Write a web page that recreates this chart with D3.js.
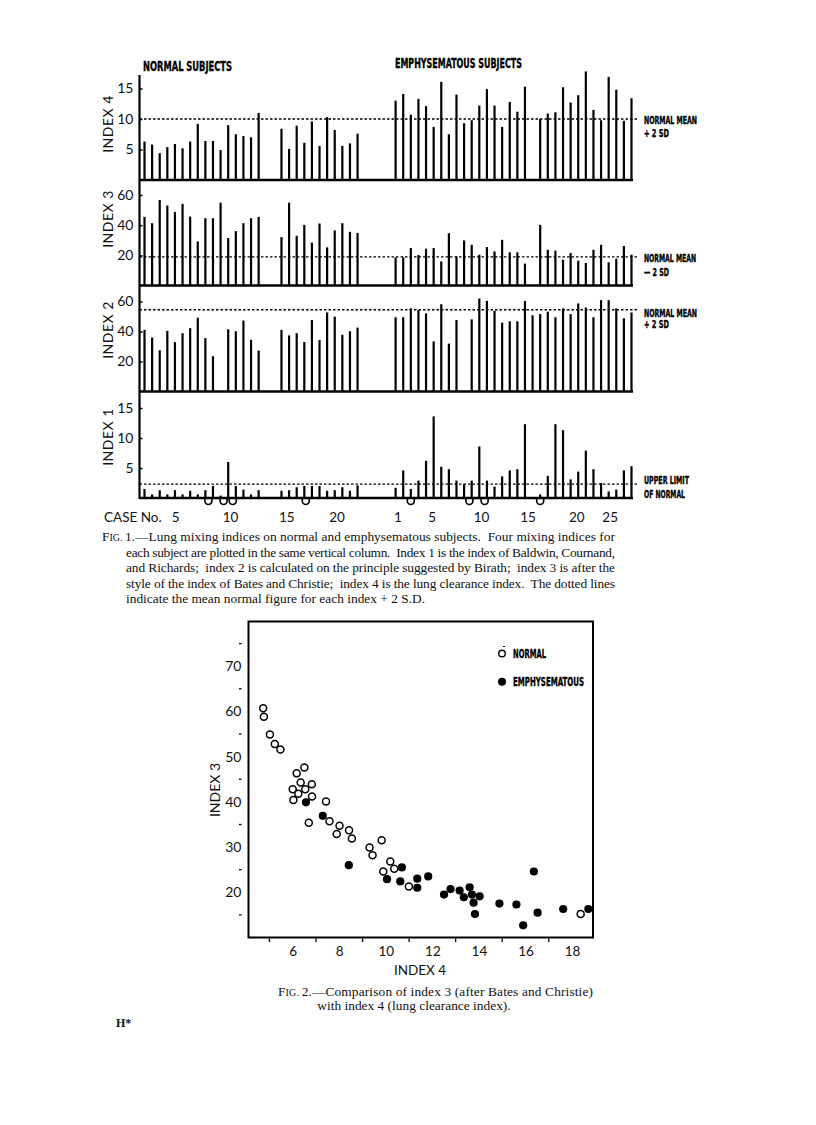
<!DOCTYPE html>
<html>
<head>
<meta charset="utf-8">
<script src="https://cdn.jsdelivr.net/npm/d3@7"></script>
<style>
  body { margin: 0; background: #fff; }
  svg { display: block; }
  .cond { font-family: "Liberation Sans Narrow", "DejaVu Sans Condensed", sans-serif; font-weight: bold; stroke: #000; stroke-width: 0.35; }
  .geo { font-family: Lato, "Open Sans", sans-serif; }
  .serif { font-family: "Liberation Serif", "DejaVu Serif", serif; }
</style>
</head>
<body>
<svg id="page" width="816" height="1125"></svg>
<script>
// ---------- Fig. 1 data ----------
// column slots of each bar (normal group, then emphysematous group)
const normalCols = [0, 1, 2, 3, 4, 5, 6, 7, 8, 9, 10, 11, 12, 13, 14, 15, 18, 19, 20, 21, 22, 23, 24, 25, 26, 27, 28];
const emphCols = [0, 1, 2, 3, 4, 5, 6, 7, 8, 9, 10, 11, 12, 13, 14, 15, 16, 17, 18, 19, 20, 21, 22, 23, 24, 25, 26, 27, 28, 29, 30, 31];
const emphOffset = 33;

const normalIndex4 = [6.3, 5.8, 4.4, 5.4, 5.9, 5.2, 6.3, 9.2, 6.4, 6.4, 4.9, 9.0, 7.5, 7.2, 7.0, 11.0, 8.4, 5.1, 8.9, 6.1, 9.6, 5.6, 10.3, 8.2, 5.6, 6.0, 7.6];
const emphIndex4 = [13.0, 14.1, 10.7, 13.3, 12.1, 8.7, 16.1, 7.5, 14.0, 9.3, 9.8, 12.2, 14.9, 12.2, 8.7, 12.8, 11.2, 15.3, null, 10.0, 10.9, 11.1, 15.2, 12.7, 13.9, 17.8, 11.5, 9.8, 16.9, 14.8, 9.7, 13.4];

const normalIndex3 = [45.5, 41.3, 56.7, 53.0, 48.8, 54.1, 45.7, 29.2, 44.6, 44.6, 54.9, 31.4, 36.0, 41.3, 44.6, 45.5, 32.1, 54.9, 33.0, 40.2, 28.4, 41.1, 25.3, 36.5, 41.3, 35.6, 34.9];
const emphIndex3 = [18.7, 18.7, 24.8, 20.2, 24.4, 24.8, 16.0, 34.7, 19.3, 29.9, 27.0, 20.4, 25.5, 22.6, 30.3, 22.0, 22.0, 14.5, null, 40.2, 23.7, 23.1, 17.1, 21.5, 16.5, 14.9, 23.7, 27.0, 15.4, 17.8, 26.2, 20.4];

const normalIndex2 = [41.1, 36.0, 27.5, 40.4, 32.9, 38.9, 42.2, 49.2, 35.6, 23.5, null, 41.5, 40.2, 47.3, 34.5, 27.3, 41.1, 37.4, 38.9, 33.0, 47.7, 34.3, 52.7, 49.9, 37.8, 40.2, 42.6];
const emphIndex2 = [49.5, 49.5, 55.4, 54.3, 52.1, 33.4, 58.2, 31.9, 47.7, null, 48.1, 62.0, 60.4, 53.8, 45.9, 46.8, 46.8, 60.4, 50.8, 51.6, 53.2, 49.5, 55.4, 51.6, 58.7, 56.0, 49.5, 60.9, 60.9, 55.4, 48.8, 52.7];

const normalIndex1 = [1.5, 0.6, 1.3, 0.6, 1.3, 0.6, 1.2, 0.6, 1.3, 2.0, 0.4, 6.0, 2.0, 1.4, 0.6, 1.3, 1.2, 1.3, 1.8, 2.0, 2.0, 2.0, 1.2, 1.3, 1.8, 1.2, 2.1];
const emphIndex1 = [1.7, 4.6, 1.5, 2.9, 6.2, 13.6, 5.2, 4.8, 2.9, 2.3, 2.9, 8.6, 2.9, 1.9, 3.6, 4.6, 4.8, 12.3, null, 0.6, 3.7, 12.3, 11.3, 3.1, 4.4, 7.9, 4.8, 2.5, 1.1, 1.4, 4.6, 5.3];

// little loops under the index 1 baseline (slot positions)
const normalLoops = [8.4, 10.4, 11.6, 21.2];
const emphLoops = [2, 9.7, 11.7, 19];

// dotted reference lines (normal mean +/- 2 SD, upper limit of normal)
const refIndex4 = 10, refIndex3 = 19, refIndex2 = 54.5, refIndex1 = 2.3;

// case number labels (value, slot position)
const caseLabels = ["5", "10", "15", "20", "1", "5", "10", "15", "20", "25"];
const caseSlots = [4.1, 11.3, 18.7, 25.3, 33.3, 37.8, 44.3, 50.4, 56.8, 61.2];

// ---------- Fig. 2 data ----------
const normalX4 = [4.73, 4.76, 5.02, 5.23, 5.47, 6.17, 6.50, 6.34, 6.00, 6.24, 6.54, 6.82, 6.03, 6.83, 7.43, 6.69, 7.58, 8.01, 7.89, 8.42, 8.54, 9.30, 9.43, 9.82, 10.19, 9.89, 10.36, 10.99, 18.37];
const normalY3 = [60.7, 58.8, 54.9, 52.8, 51.6, 46.3, 47.6, 44.3, 42.8, 41.8, 42.8, 43.9, 40.4, 41.2, 40.1, 35.4, 35.7, 34.7, 32.9, 33.7, 31.9, 29.9, 28.2, 31.5, 26.8, 24.6, 25.2, 21.3, 15.2];
const emphX4 = [6.57, 7.29, 8.41, 10.69, 10.05, 10.62, 11.35, 11.35, 11.82, 12.50, 12.78, 13.17, 13.35, 13.60, 13.70, 13.77, 13.83, 14.03, 14.88, 15.61, 15.90, 16.36, 16.52, 17.62, 18.70];
const emphY3 = [39.9, 36.9, 26.0, 25.5, 22.9, 22.4, 23.0, 21.0, 23.5, 19.5, 20.7, 20.4, 18.9, 21.1, 19.5, 17.7, 15.2, 19.1, 17.5, 17.3, 12.7, 24.6, 15.5, 16.3, 16.3];

const svg = d3.select("#page");

// ================= FIG. 1 =================
const x = d3.scaleLinear().domain([0, 64]).range([144.5, 631.5]);
const axisX = 139.5;
const lineEnd = 633;

const panels = [
  { title: "INDEX 4", normal: normalIndex4, emph: emphIndex4, ref: refIndex4, domain: [0, 15], range: [180, 88.5], ticks: [5, 10, 15],
    note: ["NORMAL MEAN", "+ 2 SD"], noteY: [124, 137], noteW: [53, 25], titleY: 124 },
  { title: "INDEX 3", normal: normalIndex3, emph: emphIndex3, ref: refIndex3, domain: [0, 60], range: [285.5, 195], ticks: [20, 40, 60],
    note: ["NORMAL MEAN", "\u2014 2 SD"], noteY: [262, 276], noteW: [52, 25], titleY: 219 },
  { title: "INDEX 2", normal: normalIndex2, emph: emphIndex2, ref: refIndex2, domain: [0, 60], range: [391.5, 301.5], ticks: [20, 40, 60],
    note: ["NORMAL MEAN", "+ 2 SD"], noteY: [317, 328], noteW: [53, 25], titleY: 330 },
  { title: "INDEX 1", normal: normalIndex1, emph: emphIndex1, ref: refIndex1, domain: [0, 15], range: [498, 408], ticks: [5, 10, 15],
    note: ["UPPER LIMIT", "OF NORMAL"], noteY: [484, 498], noteW: [45, 41], titleY: 437 }
];

// main vertical axis line
svg.append("line")
  .attr("x1", axisX).attr("x2", axisX)
  .attr("y1", 75).attr("y2", 499)
  .attr("stroke", "#000").attr("stroke-width", 2.2);

panels.forEach(function(p, pi) {
  const y = d3.scaleLinear().domain(p.domain).range(p.range);

  const bars = normalCols.map((c, i) => ({ slot: c, v: p.normal[i] }))
    .concat(emphCols.map((c, i) => ({ slot: emphOffset + c, v: p.emph[i] })))
    .filter(d => d.v != null);

  const g = svg.append("g");

  // bars
  g.selectAll("line.bar")
    .data(bars)
    .enter()
    .append("line")
    .attr("class", "bar")
    .attr("x1", d => x(d.slot)).attr("x2", d => x(d.slot))
    .attr("y1", y(0)).attr("y2", d => y(d.v))
    .attr("stroke", "#000")
    .attr("stroke-width", 2.2);

  // baseline
  g.append("line")
    .attr("x1", axisX).attr("x2", lineEnd)
    .attr("y1", y(0)).attr("y2", y(0))
    .attr("stroke", "#000").attr("stroke-width", 2.4);

  // dotted reference
  g.append("line")
    .attr("x1", axisX).attr("x2", 637)
    .attr("y1", y(p.ref)).attr("y2", y(p.ref))
    .attr("stroke", "#000").attr("stroke-width", 1.3)
    .attr("stroke-dasharray", "2.5,2");

  // axis ticks + labels
  const axis = d3.axisLeft(y).tickValues(p.ticks).tickSize(-3).tickPadding(6).tickFormat(d3.format("d"));
  const ag = g.append("g").attr("transform", `translate(${axisX},0)`).call(axis);
  ag.select(".domain").remove();
  ag.selectAll("line").attr("stroke", "#000").attr("stroke-width", 1.5);
  ag.selectAll("text").attr("class", "geo").attr("font-size", 14).attr("fill", "#111");

  // axis title
  g.append("text")
    .attr("class", "geo")
    .attr("transform", `translate(113,${p.titleY}) rotate(-90)`)
    .attr("text-anchor", "middle")
    .attr("font-size", 14)
    .attr("fill", "#111")
    .attr("letter-spacing", 0.5)
    .text(p.title.replace(" ", "  "));

  // note on the right
  p.note.forEach(function(t, k) {
    g.append("text")
      .attr("class", "cond")
      .attr("x", 644).attr("y", p.noteY[k])
      .attr("font-size", 10)
      .attr("textLength", p.noteW[k])
      .attr("lengthAdjust", "spacingAndGlyphs")
      .text(t);
  });

  // loops under index 1
  if (pi === 3) {
    const base = y(0);
    const loops = normalLoops.concat(emphLoops.map(s => emphOffset + s));
    g.selectAll("path.loop")
      .data(loops)
      .enter()
      .append("path")
      .attr("class", "loop")
      .attr("d", s => {
        const cx = x(s);
        return `M${cx - 3.5},${base} L${cx - 3.5},${base + 3} A3.5,3.5 0 0 0 ${cx + 3.5},${base + 3} L${cx + 3.5},${base}`;
      })
      .attr("fill", "none")
      .attr("stroke", "#000")
      .attr("stroke-width", 1.6);
  }
});

// group headings
svg.append("text").attr("class", "cond")
  .attr("x", 143).attr("y", 71).attr("font-size", 13.5)
  .attr("textLength", 89).attr("lengthAdjust", "spacingAndGlyphs")
  .text("NORMAL  SUBJECTS");
svg.append("text").attr("class", "cond")
  .attr("x", 395).attr("y", 68).attr("font-size", 13.5)
  .attr("textLength", 127).attr("lengthAdjust", "spacingAndGlyphs")
  .text("EMPHYSEMATOUS  SUBJECTS");

// case numbers
svg.append("text").attr("class", "geo")
  .attr("x", 104).attr("y", 522).attr("font-size", 13.5).attr("fill", "#111")
  .text("CASE No.");
svg.selectAll("text.case")
  .data(caseLabels)
  .enter()
  .append("text")
  .attr("class", "geo case")
  .attr("x", (d, i) => x(caseSlots[i]))
  .attr("y", 522)
  .attr("text-anchor", "middle")
  .attr("font-size", 13.5)
  .attr("fill", "#111")
  .text(d => d);

// caption 1
const cap1 = [
  { t: "Lung mixing indices on normal and emphysematous subjects.  Four mixing indices for", x: 102, w: 513, fig: "1" },
  { t: "each subject are plotted in the same vertical column.  Index 1 is the index of Baldwin, Cournand,", x: 126, w: 489 },
  { t: "and Richards;  index 2 is calculated on the principle suggested by Birath;  index 3 is after the", x: 126, w: 489 },
  { t: "style of the index of Bates and Christie;  index 4 is the lung clearance index.  The dotted lines", x: 126, w: 489 },
  { t: "indicate the mean normal figure for each index + 2 S.D.", x: 126, w: null }
];
cap1.forEach(function(c, i) {
  const t = svg.append("text").attr("class", "serif")
    .attr("x", c.x).attr("y", 541 + i * 15.6)
    .attr("font-size", 13.4).attr("fill", "#111")
    .attr("xml:space", "preserve");
  if (c.w) t.attr("textLength", c.w).attr("lengthAdjust", "spacing");
  if (c.fig) {
    t.append("tspan").text("F");
    t.append("tspan").attr("font-size", 10).text("IG. ");
    t.append("tspan").text(c.fig + ".\u2014" + c.t);
  } else {
    t.text(c.t);
  }
});

// ================= FIG. 2 =================
const sx = d3.scaleLinear().domain([4.1, 18.9]).range([248.5, 593]);
const sy = d3.scaleLinear().domain([10, 80]).range([937.5, 621]);

svg.append("rect")
  .attr("x", 248.5).attr("y", 621.5)
  .attr("width", 344.5).attr("height", 316)
  .attr("fill", "none").attr("stroke", "#000").attr("stroke-width", 2);

const xAxis = d3.axisBottom(sx).tickValues([6, 8, 10, 12, 14, 16, 18]).tickSize(0).tickPadding(9);
const xg = svg.append("g").attr("transform", "translate(0,937.5)").call(xAxis);
xg.select(".domain").remove();
xg.selectAll("text").attr("class", "geo").attr("font-size", 13.5).attr("fill", "#111");

const yAxis = d3.axisLeft(sy).tickValues([20, 30, 40, 50, 60, 70]).tickSize(0).tickPadding(7);
const yg = svg.append("g").attr("transform", "translate(248.5,0)").call(yAxis);
yg.select(".domain").remove();
yg.selectAll("text").attr("class", "geo").attr("font-size", 14).attr("fill", "#111");

// minor ticks
const xMinor = [5, 7, 9, 11, 13, 15, 17];
svg.selectAll("line.xminor")
  .data(xMinor)
  .enter()
  .append("line")
  .attr("class", "xminor")
  .attr("x1", d => sx(d)).attr("x2", d => sx(d))
  .attr("y1", 938.5).attr("y2", 942)
  .attr("stroke", "#000").attr("stroke-width", 1.3);
const yMinor = [15, 25, 35, 45, 55, 65, 75];
svg.selectAll("line.yminor")
  .data(yMinor)
  .enter()
  .append("line")
  .attr("class", "yminor")
  .attr("x1", 239).attr("x2", 241.5)
  .attr("y1", d => sy(d)).attr("y2", d => sy(d))
  .attr("stroke", "#000").attr("stroke-width", 1.3);

svg.append("text").attr("class", "geo")
  .attr("x", 420).attr("y", 975).attr("text-anchor", "middle")
  .attr("font-size", 13.5).attr("fill", "#111")
  .text("INDEX  4");
svg.append("text").attr("class", "geo")
  .attr("transform", "translate(220,790) rotate(-90)")
  .attr("text-anchor", "middle")
  .attr("font-size", 14).attr("fill", "#111")
  .text("INDEX  3");

// points
const normalPts = normalX4.map((v, i) => ({ x: v, y: normalY3[i] }));
const emphPts = emphX4.map((v, i) => ({ x: v, y: emphY3[i] }));

svg.selectAll("circle.norm")
  .data(normalPts)
  .enter()
  .append("circle")
  .attr("class", "norm")
  .attr("cx", d => sx(d.x)).attr("cy", d => sy(d.y))
  .attr("r", 3.5)
  .attr("fill", "#fff").attr("stroke", "#000").attr("stroke-width", 1.5);

svg.selectAll("circle.emph")
  .data(emphPts)
  .enter()
  .append("circle")
  .attr("class", "emph")
  .attr("cx", d => sx(d.x)).attr("cy", d => sy(d.y))
  .attr("r", 4.1)
  .attr("fill", "#000");

// legend
svg.append("circle").attr("cx", 502).attr("cy", 653.5).attr("r", 3.3)
  .attr("fill", "#fff").attr("stroke", "#000").attr("stroke-width", 1.4);
svg.append("line").attr("x1", 503).attr("x2", 505).attr("y1", 646.5).attr("y2", 646.5)
  .attr("stroke", "#000").attr("stroke-width", 1);
svg.append("text").attr("class", "cond")
  .attr("x", 513).attr("y", 657.5).attr("font-size", 12)
  .attr("textLength", 33).attr("lengthAdjust", "spacingAndGlyphs")
  .text("NORMAL");
svg.append("circle").attr("cx", 502).attr("cy", 681.7).attr("r", 4)
  .attr("fill", "#000");
svg.append("text").attr("class", "cond")
  .attr("x", 513).attr("y", 686).attr("font-size", 12)
  .attr("textLength", 71).attr("lengthAdjust", "spacingAndGlyphs")
  .text("EMPHYSEMATOUS");

// caption 2
const cap2 = svg.append("text").attr("class", "serif")
  .attr("x", 278).attr("y", 996).attr("font-size", 13.4).attr("fill", "#111")
  .attr("textLength", 315).attr("lengthAdjust", "spacing");
cap2.append("tspan").text("F");
cap2.append("tspan").attr("font-size", 10).text("IG. ");
cap2.append("tspan").text("2.\u2014Comparison of index 3 (after Bates and Christie)");
svg.append("text").attr("class", "serif")
  .attr("x", 414).attr("y", 1010).attr("font-size", 13.4).attr("fill", "#111")
  .attr("text-anchor", "middle")
  .text("with index 4 (lung clearance index).");

svg.append("text").attr("class", "serif")
  .attr("x", 116).attr("y", 1027).attr("font-size", 12).attr("font-weight", "bold").attr("fill", "#111")
  .text("H*");
</script>
</body>
</html>
